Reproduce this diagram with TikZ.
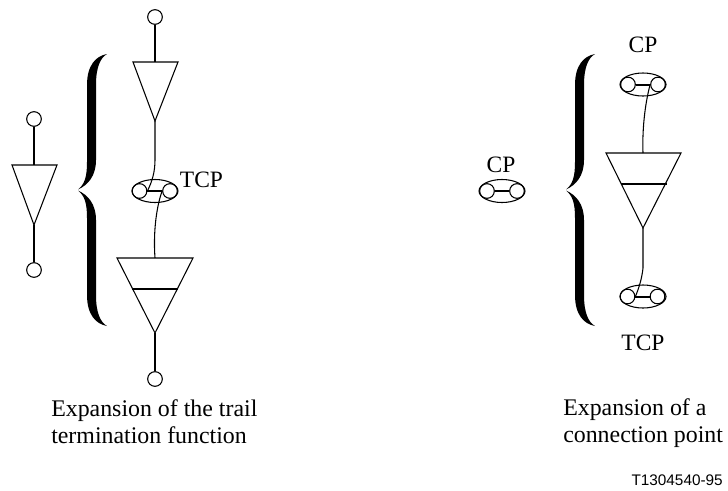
\documentclass[tikz,border=0pt]{standalone}
\usepackage{fontspec}
\setmainfont{Liberation Serif}
\newfontfamily\figfont{Liberation Sans}
\usepackage{tikz}
\usetikzlibrary{shapes.geometric}

\tikzset{
  port/.style={circle,draw,line width=0.8pt,inner sep=0pt,minimum size=11pt},
  group/.style={ellipse,draw,line width=0.8pt,inner sep=0pt,minimum width=34.5pt,minimum height=17.25pt},
  caption/.style={anchor=base west,font=\fontsize{17.9}{20}\selectfont,inner sep=0pt},
  tag/.style={font=\fontsize{17.6}{20}\selectfont,inner sep=0pt},
  fn/.style={draw,line width=0.8pt,line join=miter},
  bar/.style={draw,line width=1.5pt},
  link/.style={draw,line width=0.8pt}
}

\newcommand{\halfbrace}{%
  \fill (-14,-0.5) .. controls (-7,-6) and (-5,-14) .. (-5,-28) -- (-5,-105)
    .. controls (-5,-125) and (4,-134) .. (15,-136)
    .. controls (8,-132) and (4,-122) .. (4,-105) -- (4,-30)
    .. controls (4,-14) and (-4,-5) .. (-14,-0.5) -- cycle;}
\newcommand{\thickbrace}[2]{%
  \begin{scope}[shift={(#1,#2)}]\halfbrace\end{scope}
  \begin{scope}[shift={(#1,#2)},yscale=-1]\halfbrace\end{scope}}

\begin{document}
\begin{tikzpicture}[x=0.75pt,y=-0.75pt]
		\useasboundingbox (0,0) rectangle (728,490);

		% ports and groups
		\begin{scope}[every node/.style={port}]
		    \node (a1) at (34,119) {};
		    \node (a2) at (34,270) {};
		    \node (b1) at (155,17) {};
		    \node (b2) at (155,379) {};
		    \node (tcpl) at (139.5,191) {};
		    \node (tcpr) at (170,191) {};
		    \node (cpl) at (487,191) {};
		    \node (cpr) at (517,191) {};
		    \node (ucpl) at (628,84.5) {};
		    \node (ucpr) at (658,84.5) {};
		    \node (lcpl) at (627.5,296.5) {};
		    \node (lcpr) at (657.5,296.5) {};
		\end{scope}
		\node[group] (tcp) at (155,191) {};
		\node[group] (cp) at (502,191) {};
		\node[group] (ucp) at (643,84.5) {};
		\node[group] (lcp) at (643,296.5) {};

		% triangles
		\coordinate (atop) at (34,165);
		\coordinate (aapex) at (34,225);
		\coordinate (btop) at (155,62);
		\coordinate (bapex) at (155,121);
		\coordinate (ctop) at (155,258);
		\coordinate (capex) at (155,333);
		\coordinate (dtop) at (643,153);
		\coordinate (dapex) at (643,228);
		\draw[fn] (12,165) -- (57,165) -- (aapex) -- cycle;
		\draw[fn] (133,62) -- (178,62) -- (bapex) -- cycle;
		\draw[fn] (117,258) -- (193,258) -- (capex) -- cycle;
		\draw[fn] (606,153) -- (681,153) -- (dapex) -- cycle;
		\draw[bar] (132,289) -- (178,289);
		\draw[bar] (621,183.5) -- (667,183.5);

		% connectors
		\begin{scope}[every edge/.style={bar}]
		    \path (a1) edge (atop);
		    \path (aapex) edge (a2);
		    \path (b1) edge (btop);
		    \path (capex) edge (b2);
		    \path (tcpl) edge (tcpr);
		    \path (cpl) edge (cpr);
		    \path (ucpl) edge (ucpr);
		    \path (lcpl) edge (lcpr);
		\end{scope}
		\draw[link] (bapex) -- (155,160) .. controls (155,172) and (152,182) .. (tcpl.east);
		\draw[link] (tcpr.west) .. controls (157,205) and (153,230) .. (ctop);
		\draw[link] (ucpr.west) .. controls (646,100) and (642,125) .. (dtop);
		\draw[link] (dapex) -- (643,268) .. controls (642,278) and (639,288) .. (lcpl.east);

		% braces
		\thickbrace{92}{190}
		\thickbrace{580}{190}

		% labels
		\node[tag] (tcplabel) at (201.5,179.5) {TCP};
		\node[tag] (cplabel) at (501,164.5) {CP};
		\node[tag] (ucplabel) at (643,45) {CP};
		\node[tag] (lcplabel) at (643,343) {TCP};
		\node[caption] (cap1) at (51,416) {Expansion of the trail};
		\node[caption] (cap2) at (51,443) {termination function};
		\node[caption] (cap3) at (563,415.5) {Expansion of a};
		\node[caption] (cap4) at (563,442.5) {connection point};
		\node[anchor=base east,inner sep=0pt,font=\figfont\fontsize{11.5}{13}\selectfont] (code) at (723,485) {T1304540-95};
\end{tikzpicture}
\end{document}
